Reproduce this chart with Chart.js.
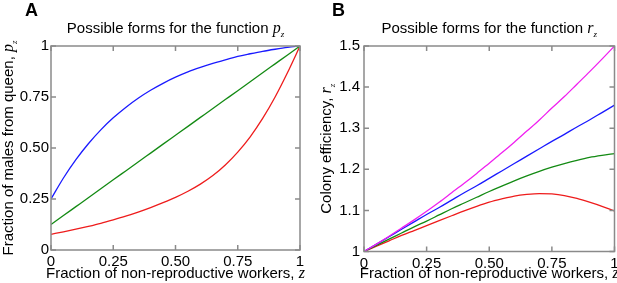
<!DOCTYPE html>
<html><head><meta charset="utf-8">
<script src="https://cdn.jsdelivr.net/npm/chart.js@4/dist/chart.umd.min.js"></script>
<style>
html,body{margin:0;padding:0;background:#fff;}
#wrap{position:relative;width:617px;height:283px;overflow:hidden;background:#fff;}
canvas{position:absolute;left:0;top:0;}
</style></head><body>
<div id="wrap"><canvas id="cA" width="617" height="283"></canvas><canvas id="cB" width="617" height="283"></canvas></div>
<script>
// ---- data ----
const zValues = [0,0.05,0.1,0.15,0.2,0.25,0.3,0.35,0.4,0.45,0.5,0.55,0.6,0.65,0.7,0.75,0.8,0.85,0.9,0.95,1];
const xTickValues = [0,0.25,0.5,0.75,1];
const xTickLabels = ['0','0.25','0.50','0.75','1'];
const yTickValuesA = [0,0.25,0.5,0.75,1];
const yTickLabelsA = ['0','0.25','0.50','0.75','1'];
const yTickValuesB = [1,1.1,1.2,1.3,1.4,1.5];
const yTickLabelsB = ['1','1.1','1.2','1.3','1.4','1.5'];

// Panel A: p_z
const pBlue  = [0.25,0.353,0.443,0.521,0.589,0.648,0.699,0.744,0.783,0.817,0.847,0.873,0.895,0.915,0.932,0.949,0.962,0.974,0.984,0.993,1];
const pGreen = [0.125,0.169,0.2125,0.256,0.3,0.344,0.3875,0.431,0.475,0.519,0.5625,0.606,0.65,0.694,0.7375,0.781,0.825,0.869,0.9125,0.956,1];
const pRed   = [0.077,0.089,0.102,0.116,0.131,0.148,0.166,0.186,0.208,0.232,0.258,0.288,0.323,0.365,0.417,0.48,0.555,0.645,0.75,0.87,1];

// Panel B: r_z
const rMagenta = [1,1.018,1.037,1.057,1.077,1.098,1.12,1.143,1.166,1.19,1.215,1.24,1.266,1.293,1.32,1.349,1.377,1.407,1.437,1.468,1.5];
const rBlue    = [1,1.018,1.036,1.054,1.072,1.09,1.107,1.125,1.143,1.16,1.178,1.196,1.214,1.232,1.25,1.268,1.285,1.303,1.32,1.338,1.356];
const rGreen   = [1,1.015,1.03,1.045,1.06,1.074,1.089,1.104,1.118,1.132,1.146,1.159,1.172,1.184,1.195,1.205,1.214,1.222,1.229,1.234,1.238];
const rRed     = [1,1.013,1.026,1.039,1.051,1.063,1.075,1.087,1.099,1.11,1.12,1.128,1.135,1.139,1.141,1.14,1.136,1.129,1.12,1.11,1.099];

const COL = {blue:'#1a1aff', green:'#138a13', red:'#ee1c1c', magenta:'#f020f0'};
const SANS = '"Liberation Sans", Arial, Helvetica, sans-serif';
const SERIF = '"Liberation Serif", "Times New Roman", serif';
const AXIS_COLOR = '#8a8a8a';

function pts(ys){ return zValues.map((z,i)=>({x:z,y:ys[i]})); }
function ds(ys,c){ return {data:pts(ys), borderColor:c, borderWidth:1.3, pointRadius:0, fill:false, cubicInterpolationMode:'monotone'}; }
function labelFor(vals,labs){ return v => { const i = vals.findIndex(t=>Math.abs(t-v)<1e-6); return i>=0?labs[i]:''; }; }

function drawMixed(ctx, parts, x, y){
  let w = 0;
  parts.forEach(p=>{ ctx.font=p.font; p.w = ctx.measureText(p.t).width; w += p.w + (p.gap||0); });
  let cx = x - w/2;
  ctx.textAlign='left'; ctx.textBaseline='alphabetic';
  parts.forEach(p=>{ ctx.font=p.font; ctx.fillText(p.t, cx + (p.gap||0), y + (p.dy||0)); cx += p.w + (p.gap||0); });
}

const framePlugin = {
  id:'frame',
  afterDatasetsDraw(chart, args, o){
    const {ctx, chartArea:a, scales:{x,y}} = chart;
    ctx.save();
    ctx.strokeStyle = AXIS_COLOR; ctx.lineWidth = 1.5;
    ctx.strokeRect(a.left, a.top, a.right-a.left, a.bottom-a.top);
    ctx.beginPath();
    o.xt.forEach(v=>{ const px=x.getPixelForValue(v); ctx.moveTo(px,a.bottom); ctx.lineTo(px,a.bottom-5); ctx.moveTo(px,a.top); ctx.lineTo(px,a.top+5); });
    o.yt.forEach(v=>{ const py=y.getPixelForValue(v); ctx.moveTo(a.left,py); ctx.lineTo(a.left+5,py); ctx.moveTo(a.right,py); ctx.lineTo(a.right-5,py); });
    ctx.stroke();
    ctx.restore();
  },
  afterDraw(chart, args, o){
    const {ctx, chartArea:a} = chart;
    ctx.save(); ctx.fillStyle='#000';
    const cx = (a.left+a.right)/2, cy=(a.top+a.bottom)/2;
    ctx.font = 'bold 18px '+SANS; ctx.textAlign='left'; ctx.textBaseline='alphabetic';
    ctx.fillText(o.letter, o.letterX, 16);
    drawMixed(ctx, [
      {t:'Possible forms for the function ', font:'15px '+SANS},
      {t:o.sym, font:'italic 16px '+SERIF},
      {t:'z', font:'italic 9px '+SERIF, dy:4}
    ], cx, 33);
    drawMixed(ctx, [
      {t:'Fraction of non-reproductive workers, ', font:'15px '+SANS},
      {t:'z', font:'italic 16px '+SERIF}
    ], cx, 278);
    ctx.translate(o.yTitleX, cy); ctx.rotate(-Math.PI/2);
    drawMixed(ctx, [
      {t:o.yText, font:'15px '+SANS},
      {t:o.sym, font:'italic 16px '+SERIF},
      {t:'z', font:'italic 9px '+SERIF, dy:4}
    ], 0, 0);
    ctx.restore();
  }
};

function makeChart(id, datasets, yMin, yMax, yStep, yVals, yLabs, pad, yW, xH, yPad, frameOpts){
  return new Chart(document.getElementById(id), {
    type:'line',
    data:{datasets},
    plugins:[framePlugin],
    options:{
      responsive:false, animation:false, devicePixelRatio:1,
      layout:{padding:pad},
      plugins:{legend:{display:false}, tooltip:{enabled:false}, frame:frameOpts},
      scales:{
        x:{type:'linear', min:0, max:1, grid:{display:false, drawTicks:false}, border:{display:false},
           ticks:{stepSize:0.25, padding:3, color:'#000', font:{family:SANS, size:15}, maxRotation:0, callback:labelFor(xTickValues,xTickLabels)},
           afterFit(s){ s.height = xH; s.paddingLeft=0; s.paddingRight=0; }},
        y:{type:'linear', min:yMin, max:yMax, grid:{display:false, drawTicks:false}, border:{display:false},
           ticks:{stepSize:yStep, padding:yPad, color:'#000', font:{family:SANS, size:15}, callback:labelFor(yVals,yLabs)},
           afterFit(s){ s.width = yW; s.paddingTop=0; s.paddingBottom=0; }}
      }
    }
  });
}

makeChart('cA', [ds(pBlue,COL.blue), ds(pGreen,COL.green), ds(pRed,COL.red)],
  0, 1, 0.25, yTickValuesA, yTickLabelsA,
  {left:0, right:317, top:46, bottom:0}, 51, 33, 2,
  {xt:xTickValues, yt:yTickValuesA, letter:'A', letterX:25, sym:'p', yText:'Fraction of males from queen, ', yTitleX:13});

makeChart('cB', [ds(rMagenta,COL.magenta), ds(rBlue,COL.blue), ds(rGreen,COL.green), ds(rRed,COL.red)],
  1, 1.5, 0.1, yTickValuesB, yTickLabelsB,
  {left:300, right:2.5, top:46, bottom:0}, 64, 31.5, 4,
  {xt:xTickValues, yt:yTickValuesB, letter:'B', letterX:332, sym:'r', yText:'Colony efficiency, ', yTitleX:331});
</script>
</body></html>
